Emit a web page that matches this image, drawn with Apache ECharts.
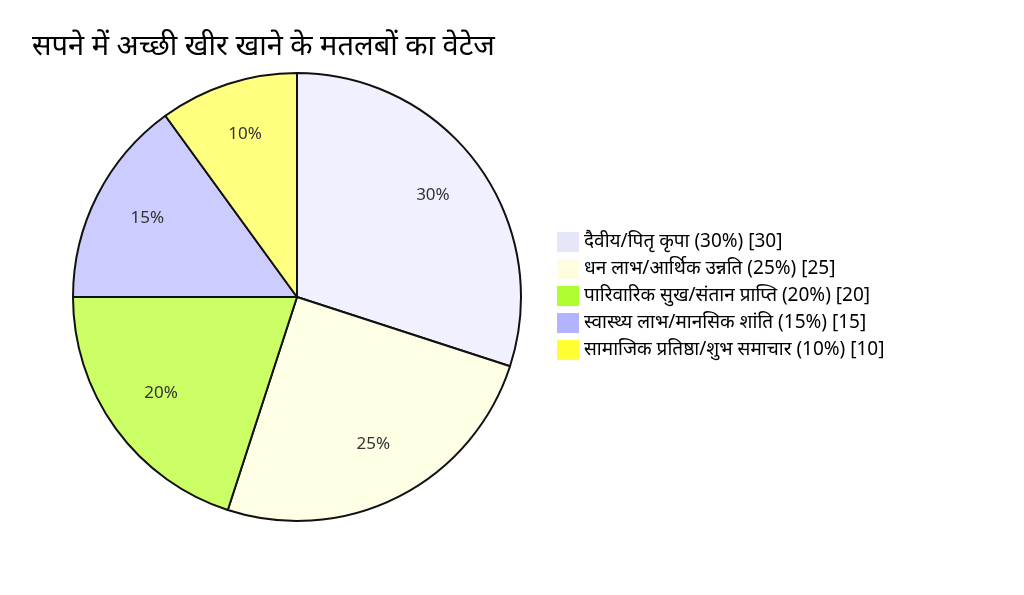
<html><head>
<meta charset="UTF-8">
<title>सपने में अच्छी खीर खाने के मतलबों का वेटेज</title>
<style>
  body { margin: 0; background: #fff; }
  #chart { width: 1024px; height: 595px; }
</style>
</head>
<body>
<div id="chart"></div>
<script src="https://cdn.jsdelivr.net/npm/echarts@6/dist/echarts.min.js"></script>
<script>
// categories and values
const categories = [
  'दैवीय/पितृ कृपा',
  'धन लाभ/आर्थिक उन्नति',
  'पारिवारिक सुख/संतान प्राप्ति',
  'स्वास्थ्य लाभ/मानसिक शांति',
  'सामाजिक प्रतिष्ठा/शुभ समाचार'
];
const weights = [30, 25, 20, 15, 10];
const sliceColors = ['#f0f0ff', '#ffffe6', '#ccff66', '#ccccff', '#ffff80'];
const legendColors = ['#e6e6fa', '#fffde0', '#adff2f', '#b3b3ff', '#ffff33'];

const total = weights.reduce((a, b) => a + b, 0);
const font = "'Noto Sans', sans-serif";

const chart = echarts.init(document.getElementById('chart'));

const pieData = categories.map((name, i) => ({
  name: name,
  value: weights[i],
  itemStyle: { color: sliceColors[i] }
}));

chart.setOption({
  animation: false,
  textStyle: { fontFamily: font },
  title: {
    text: 'सपने में अच्छी खीर खाने के मतलबों का वेटेज',
    left: 27,
    top: 27,
    textStyle: { fontSize: 29, fontWeight: 'normal', color: '#000', fontFamily: font }
  },
  legend: {
    orient: 'vertical',
    left: 552,
    top: 227,
    itemWidth: 22,
    itemHeight: 20,
    itemGap: 7,
    selectedMode: false,
    itemStyle: { borderWidth: 0 },
    textStyle: { fontSize: 19, lineHeight: 20, color: '#000', fontFamily: font },
    data: categories.map((name, i) => ({
      name: name,
      icon: 'rect',
      itemStyle: { color: legendColors[i], borderWidth: 0 }
    })),
    formatter: function (name) {
      const i = categories.indexOf(name);
      const pct = Math.round(weights[i] / total * 100);
      return name + ' (' + pct + '%) [' + weights[i] + ']';
    }
  },
  series: [
    {
      type: 'pie',
      center: [297, 297],
      radius: [0, 224],
      startAngle: 90,
      clockwise: true,
      silent: true,
      label: { show: false },
      labelLine: { show: false },
      itemStyle: { borderColor: '#111', borderWidth: 2 },
      data: pieData
    },
    {
      // transparent ring used only to place the percentage labels
      type: 'pie',
      center: [297, 294],
      radius: [106, 224],
      startAngle: 90,
      clockwise: true,
      silent: true,
      legendHoverLink: false,
      itemStyle: { color: 'rgba(0,0,0,0)', borderWidth: 0 },
      label: {
        show: true,
        position: 'inside',
        formatter: '{d}%',
        fontSize: 17,
        color: '#333',
        fontFamily: font
      },
      labelLine: { show: false },
      data: categories.map((name, i) => ({ name: name + ' ', value: weights[i] }))
    }
  ]
});
</script>
</body>
</html>
